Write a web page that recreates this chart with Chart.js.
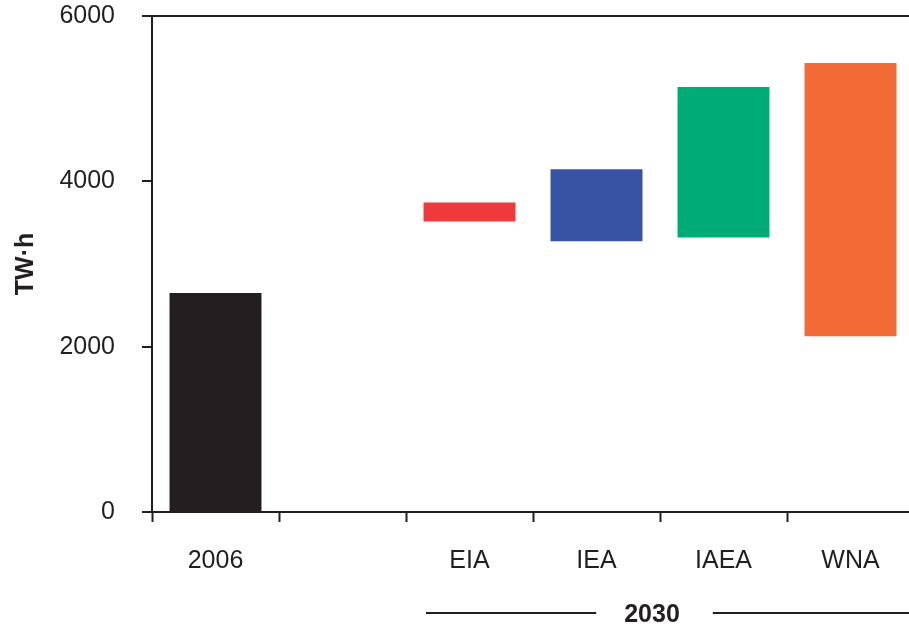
<!DOCTYPE html>
<html>
<head>
<meta charset="utf-8">
<script src="https://cdn.jsdelivr.net/npm/chart.js@4/dist/chart.umd.min.js"></script>
<style>
  html, body { margin: 0; padding: 0; background: #fff; overflow: hidden; }
  #wrap { width: 915px; height: 626px; }
</style>
</head>
<body>
<div id="wrap"><canvas id="chart" width="915" height="626"></canvas></div>
<script>
// datos (TW·h)
const categories = ["2006", "", "EIA", "IEA", "IAEA", "WNA"];
const lowValues = [0, null, 3515, 3275, 3320, 2125];
const highValues = [2650, null, 3745, 4145, 5140, 5430];
const barColors = ["#231f20", "#ffffff", "#ef3a3d", "#3953a4", "#00ab76", "#f26a36"];
const yTickValues = [0, 2000, 4000, 6000];
const groupLabel = "2030";
const groupFrom = 2; // EIA
const groupTo = 5;   // WNA

const INK = "#231f20";
const FONT = "'Liberation Sans', Arial, sans-serif";

// rangos flotantes [bajo, alto]
const ranges = categories.map((c, i) =>
  lowValues[i] === null ? null : [lowValues[i], highValues[i]]
);

// línea "—— 2030 ——" debajo del eje x
const groupBracket = {
  id: "groupBracket",
  afterDraw(chart) {
    const x = chart.scales.x;
    const ctx = chart.ctx;
    const half = (x.getPixelForValue(1) - x.getPixelForValue(0)) / 2;
    const left = x.getPixelForValue(groupFrom) - half + 20;
    const right = x.right + 5;
    const mid = x.getPixelForValue((groupFrom + groupTo) / 2) - 8;
    const y = 613;
    ctx.save();
    ctx.font = "bold 25px " + FONT;
    ctx.fillStyle = INK;
    ctx.textAlign = "center";
    ctx.textBaseline = "middle";
    ctx.fillText(groupLabel, mid, y + 2);
    const tw = ctx.measureText(groupLabel).width;
    ctx.strokeStyle = INK;
    ctx.lineWidth = 2;
    ctx.beginPath();
    ctx.moveTo(left, y);
    ctx.lineTo(mid - tw / 2 - 28, y);
    ctx.moveTo(mid + tw / 2 + 33, y);
    ctx.lineTo(right, y);
    ctx.stroke();
    ctx.restore();
  }
};

new Chart(document.getElementById("chart"), {
  type: "bar",
  data: {
    labels: categories,
    datasets: [{
      data: ranges,
      backgroundColor: barColors,
      borderWidth: 0,
      borderSkipped: false,
      barPercentage: 0.724,
      categoryPercentage: 1
    }]
  },
  options: {
    responsive: false,
    animation: false,
    layout: { padding: { top: 16, right: 1, left: 0, bottom: 0 } },
    plugins: {
      legend: { display: false },
      tooltip: { enabled: false }
    },
    scales: {
      x: {
        offset: true,
        grid: {
          offset: true,
          drawOnChartArea: false,
          drawTicks: true,
          tickLength: 10,
          tickWidth: 2,
          tickColor: INK
        },
        border: { display: true, color: INK, width: 2 },
        ticks: {
          color: INK,
          padding: 24,
          maxRotation: 0,
          font: { family: FONT, size: 25 }
        },
        afterFit: (s) => { s.height = 114; }
      },
      y: {
        min: 0,
        max: 6000,
        afterBuildTicks: (s) => { s.ticks = yTickValues.map(v => ({ value: v })); },
        grid: {
          color: (c) => (c.tick && c.tick.value === 6000 ? INK : "rgba(0,0,0,0)"),
          lineWidth: 2,
          tickLength: 10,
          tickWidth: 2,
          tickColor: INK
        },
        border: { display: true, color: INK, width: 2 },
        ticks: {
          color: INK,
          padding: 27,
          callback: (v) => String(v),
          font: { family: FONT, size: 25 }
        },
        title: {
          display: true,
          text: "TW·h",
          color: INK,
          padding: { top: 11, bottom: 0 },
          font: { family: FONT, size: 25, weight: "bold" }
        },
        afterFit: (s) => { s.width = 152; s.paddingTop = 0; s.paddingBottom = 0; }
      }
    }
  },
  plugins: [groupBracket]
});
</script>
</body>
</html>
